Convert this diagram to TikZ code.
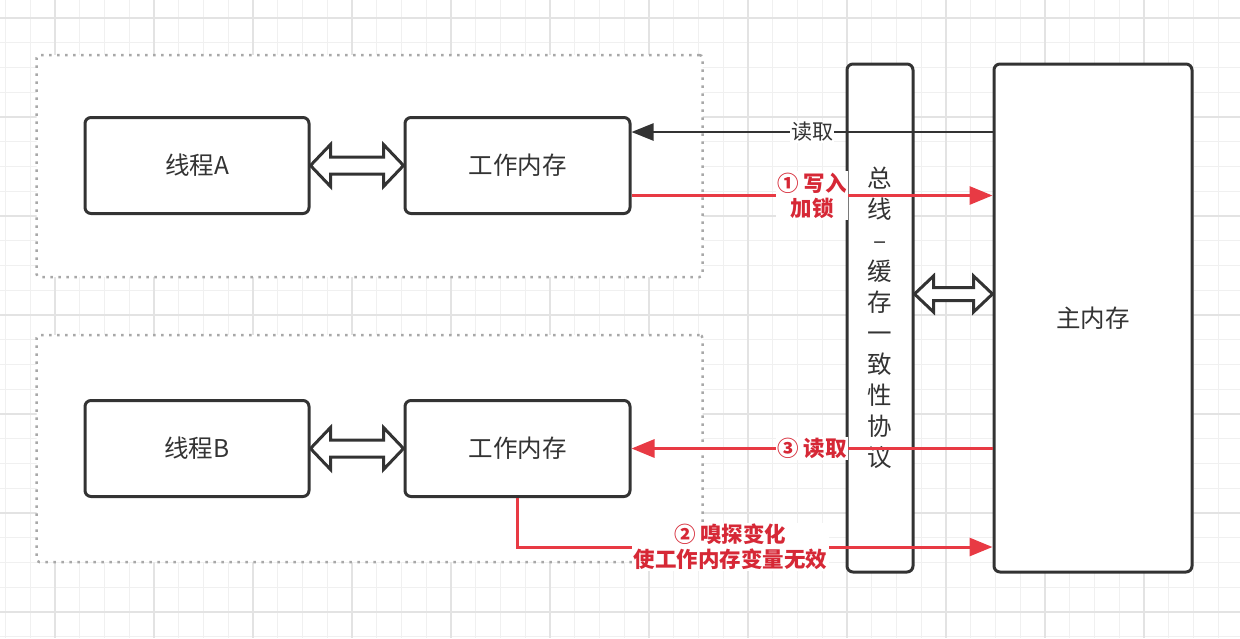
\documentclass[tikz,border=0pt]{standalone}
\usepackage{fontspec}
\setmainfont{Noto Sans CJK SC}
\usetikzlibrary{arrows.meta,calc}
\definecolor{ink}{HTML}{333333}
\definecolor{redline}{RGB}{232,58,68}
\definecolor{redtext}{RGB}{214,40,54}
\definecolor{gridminor}{HTML}{F0F0F0}
\definecolor{gridmajor}{HTML}{E3E3E3}
\definecolor{dotgray}{HTML}{A8A8A8}
\newcommand{\dblarrow}[5]{%
  \draw[hollow] (#1) -- ++(#3,-#4) -- ++(0,#4-#5) -- ($(#2)+(-#3,-#5)$) -- ++(0,#5-#4) -- (#2)
    -- ++(-#3,#4) -- ++(0,#5-#4) -- ($(#1)+(#3,#5)$) -- ++(0,#4-#5) -- cycle;}
\begin{document}
\begin{tikzpicture}[x=1pt,y=-1pt,
  box/.style={draw=ink, line width=3pt, rounded corners=6pt, fill=white,
    font=\fontsize{24.5}{31}\selectfont, text=ink, inner sep=0pt},
  container/.style={draw=dotgray, line width=2.5pt, dash pattern=on 2.5pt off 5.5pt,
    fill=white, rounded corners=3pt, inner sep=0pt},
  hollow/.style={draw=ink, line width=3pt, fill=white, line join=miter},
  blackarrow/.style={draw=ink, line width=2.5pt, -{Triangle[length=22pt,width=17pt]}},
  redarrow/.style={draw=redline, line width=3pt, -{Triangle[length=23pt,width=18pt]}},
  blacklabel/.style={fill=white, text=ink, inner sep=1pt, font=\fontsize{21}{25}\selectfont},
  redlabel/.style={fill=white, text=redtext, inner sep=1.5pt, align=center,
    font=\fontsize{21.5}{25}\selectfont\bfseries},
]
\useasboundingbox (0,0) rectangle (1240,638);
\fill[white] (0,0) rectangle (1240,638);
% grid
\foreach \k in {0,...,49} \draw[gridminor, line width=1.2pt] ({5.5+24.75*\k},0) -- ({5.5+24.75*\k},638);
\foreach \k in {0,...,25} \draw[gridminor, line width=1.2pt] (0,{18+24.75*\k}) -- (1240,{18+24.75*\k});
\foreach \k in {2,6,...,46} \draw[gridmajor, line width=1.2pt] ({5.5+24.75*\k},0) -- ({5.5+24.75*\k},638);
\foreach \k in {0,4,...,24} \draw[gridmajor, line width=1.2pt] (0,{18+24.75*\k}) -- (1240,{18+24.75*\k});

% containers
\node[container, minimum width=666pt, minimum height=222pt] (contA) at (369.5,166) {};
\node[container, minimum width=666pt, minimum height=227pt] (contB) at (369.5,448.5) {};

% boxes
\node[box, minimum width=224pt, minimum height=96pt] (ta) at (197,165.5) {线程A};
\node[box, minimum width=225pt, minimum height=96pt] (wa) at (517.5,165.5) {工作内存};
\node[box, minimum width=224pt, minimum height=96pt] (tb) at (197,448.5) {线程B};
\node[box, minimum width=225pt, minimum height=96pt] (wb) at (517.5,448.5) {工作内存};
\node[box, minimum width=66pt, minimum height=508pt, align=center] (bus) at (880,318)
  {总\\线\\–\\缓\\存\\一\\致\\性\\协\\议};
\node[box, minimum width=198pt, minimum height=508pt] (mm) at (1093,318) {主内存};

% hollow double arrows
\dblarrow{ta.east}{wa.west}{20}{21}{8.5}
\dblarrow{tb.east}{wb.west}{20}{21}{8.5}
\coordinate (bm1) at ($(bus.east)+(0,-24)$);
\coordinate (bm2) at (mm.west |- bm1);
\dblarrow{bm1}{bm2}{19}{18}{6.5}

% connectors
\coordinate (rdA) at ($(wa.east)+(0,-33.5)$);
\draw[blackarrow] (mm.west |- rdA) -- node[blacklabel]{读取} (rdA);

\coordinate (wrA) at ($(wa.east)+(0,30)$);
\draw[redarrow] (wrA) -- node[redlabel]{① 写入\\加锁} (mm.west |- wrA);

\draw[redarrow] (mm.west |- wb.east) -- node[redlabel]{③ 读取} (wb.east);

\coordinate (snB) at ($(wb.south)+(0,49)$);
\draw[redarrow] (wb.south) -- (snB) -- node[pos=0.448, redlabel]{② 嗅探变化\\使工作内存变量无效} (mm.west |- snB);
\end{tikzpicture}
\end{document}
